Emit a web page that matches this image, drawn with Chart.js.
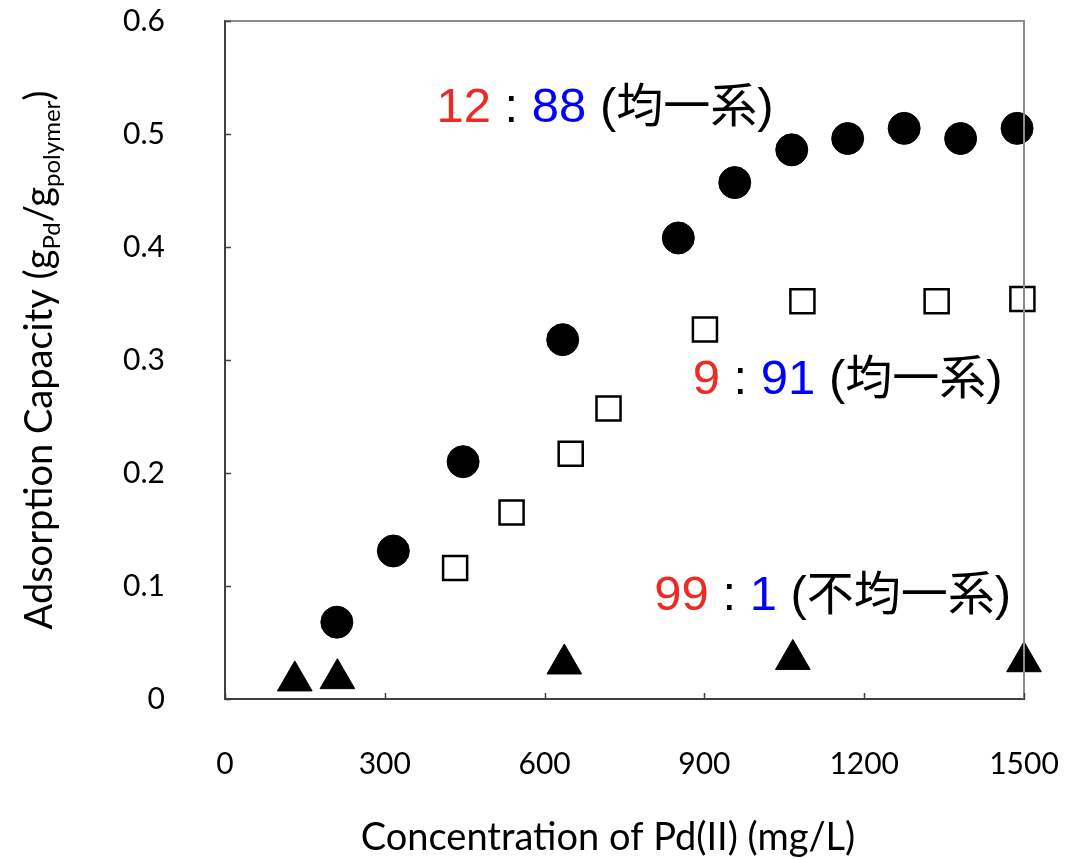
<!DOCTYPE html>
<html>
<head>
<meta charset="utf-8">
<script src="https://cdn.jsdelivr.net/npm/chart.js@4/dist/chart.umd.min.js"></script>
<style>
  html, body { margin: 0; padding: 0; background: #fff; }
  #wrap { width: 1068px; height: 859px; position: relative; }
</style>
</head>
<body>
<div id="wrap"><canvas id="chart"></canvas></div>
<script>
// values (x = mg/L, y = g/g)
var ratio1288X = [210, 316, 447, 634, 851, 957, 1064, 1169, 1275, 1381, 1487];
var ratio1288Y = [0.068, 0.131, 0.210, 0.318, 0.408, 0.457, 0.486, 0.496, 0.505, 0.496, 0.505];

var ratio991X = [432, 538, 649, 720, 901, 1084, 1336, 1497];
var ratio991Y = [0.116, 0.165, 0.217, 0.257, 0.327, 0.352, 0.352, 0.354];

var ratio991bX = [131, 211, 637, 1066, 1500];
var ratio991bY = [0.016, 0.018, 0.031, 0.035, 0.033];

var xTicks = [0, 300, 600, 900, 1200, 1500];
var xTickLabels = ['0', '300', '600', '900', '1200', '1500'];
var yTicks = [0, 0.1, 0.2, 0.3, 0.4, 0.5, 0.6];
var yTickLabels = ['0', '0.1', '0.2', '0.3', '0.4', '0.5', '0.6'];

var xTitle = 'Concentration of Pd(II) (mg/L)';
var yTitleParts = [['Adsorption Capacity (g', 0], ['Pd', 1], ['/g', 0], ['polymer', 1], [')', 0]];

// labels inside the plot: [red part, blue part, japanese part, x, y]
var labels = [
  ['12', '88', '均一系', 397, 0.511],
  ['9', '91', '均一系', 878, 0.270],
  ['99', '1', '不均一系', 806, 0.079]
];

function pts(xs, ys) {
  return xs.map(function(x, i) { return {x: x, y: ys[i]}; });
}

var RED = '#ee2a24', BLUE = '#0000ff';
var LATIN = '49px "Liberation Sans", Arial, sans-serif';
var CJK = '47px "Noto Sans CJK JP", sans-serif';

var framePlugin = {
  id: 'frame',
  afterDatasetsDraw: function(chart) {
    var ctx = chart.ctx, a = chart.chartArea;
    var xs = chart.scales.x, ys = chart.scales.y;
    ctx.save();
    // top and right borders
    ctx.strokeStyle = '#8c8c8c';
    ctx.lineWidth = 2;
    ctx.beginPath();
    ctx.moveTo(a.left, a.top);
    ctx.lineTo(a.right, a.top);
    ctx.lineTo(a.right, a.bottom);
    ctx.stroke();
    // inward ticks
    ctx.strokeStyle = '#404040';
    ctx.lineWidth = 1.5;
    ctx.beginPath();
    yTicks.forEach(function(v) {
      var y = Math.round(ys.getPixelForValue(v)) + 0.5;
      ctx.moveTo(a.left, y); ctx.lineTo(a.left + 6, y);
    });
    xTicks.forEach(function(v) {
      var x = Math.round(xs.getPixelForValue(v)) + 0.5;
      ctx.moveTo(x, a.bottom); ctx.lineTo(x, a.bottom - 6);
    });
    ctx.stroke();

    // annotations
    ctx.textBaseline = 'alphabetic';
    ctx.textAlign = 'left';
    labels.forEach(function(l) {
      var x = xs.getPixelForValue(l[3]);
      var y = ys.getPixelForValue(l[4]);
      var segs = [[l[0], RED, LATIN], [' : ', '#000', LATIN], [l[1], BLUE, LATIN],
                  [' (', '#000', LATIN], [l[2], '#000', CJK], [')', '#000', LATIN]];
      segs.forEach(function(s) {
        ctx.font = s[2];
        ctx.fillStyle = s[1];
        ctx.fillText(s[0], x, y);
        x += ctx.measureText(s[0]).width;
      });
    });

    // x title (sits a little left of the plot centre in the original)
    ctx.font = '38px Lato, sans-serif';
    ctx.fillStyle = '#000';
    ctx.textAlign = 'center';
    ctx.textBaseline = 'middle';
    ctx.fillText(xTitle, a.left + 383, 838);

    // y title with subscripts
    ctx.textAlign = 'left';
    ctx.textBaseline = 'alphabetic';
    var mainFont = '38px Lato, sans-serif', subFont = '24px Lato, sans-serif';
    var total = 0;
    yTitleParts.forEach(function(p) {
      ctx.font = p[1] ? subFont : mainFont;
      total += ctx.measureText(p[0]).width;
    });
    ctx.translate(52, (a.top + a.bottom) / 2);
    ctx.rotate(-Math.PI / 2);
    var px = -total / 2;
    yTitleParts.forEach(function(p) {
      ctx.font = p[1] ? subFont : mainFont;
      ctx.fillText(p[0], px, p[1] ? 8 : 0);
      px += ctx.measureText(p[0]).width;
    });
    ctx.restore();
  }
};

var chart = new Chart('chart', {
  type: 'scatter',
  data: {
    datasets: [{
      label: '12:88',
      data: pts(ratio1288X, ratio1288Y),
      pointStyle: 'circle',
      pointRadius: 16,
      backgroundColor: '#000',
      borderColor: '#000',
      borderWidth: 1,
      clip: false
    }, {
      label: '9:91',
      data: pts(ratio991X, ratio991Y),
      pointStyle: 'rect',
      pointRadius: 17,
      backgroundColor: '#fff',
      borderColor: '#000',
      borderWidth: 2.5,
      clip: false
    }, {
      label: '99:1',
      data: pts(ratio991bX, ratio991bY),
      pointStyle: 'triangle',
      pointRadius: 20,
      backgroundColor: '#000',
      borderColor: '#000',
      borderWidth: 1,
      clip: false
    }]
  },
  options: {
    responsive: true,
    maintainAspectRatio: false,
    animation: false,
    layout: { padding: { top: 21, right: 44, left: 0, bottom: 0 } },
    plugins: { legend: { display: false }, tooltip: { enabled: false } },
    scales: {
      x: {
        type: 'linear',
        min: 0, max: 1500,
        afterBuildTicks: function(s) { s.ticks = xTicks.map(function(v) { return {value: v}; }); },
        afterFit: function(s) { s.height = 160; },
        // tick marks are hidden (grid off) but their length keeps the labels away from the axis
        grid: { display: false, drawTicks: true, tickLength: 47 },
        border: { display: true, color: '#404040', width: 2 },
        ticks: {
          font: { family: 'Lato', size: 30 }, color: '#000', padding: 0, maxRotation: 0,
          callback: function(v) { return xTickLabels[xTicks.indexOf(v)]; }
        }
      },
      y: {
        type: 'linear',
        min: 0, max: 0.6,
        afterBuildTicks: function(s) { s.ticks = yTicks.map(function(v) { return {value: v}; }); },
        afterFit: function(s) { s.width = 225; },
        grid: { display: false, drawTicks: true, tickLength: 60 },
        border: { display: true, color: '#404040', width: 2 },
        ticks: {
          font: { family: 'Lato', size: 30 }, color: '#000', padding: 0,
          callback: function(v) { return yTickLabels[yTicks.indexOf(v)]; }
        }
      }
    }
  },
  plugins: [framePlugin]
});
</script>
</body>
</html>
